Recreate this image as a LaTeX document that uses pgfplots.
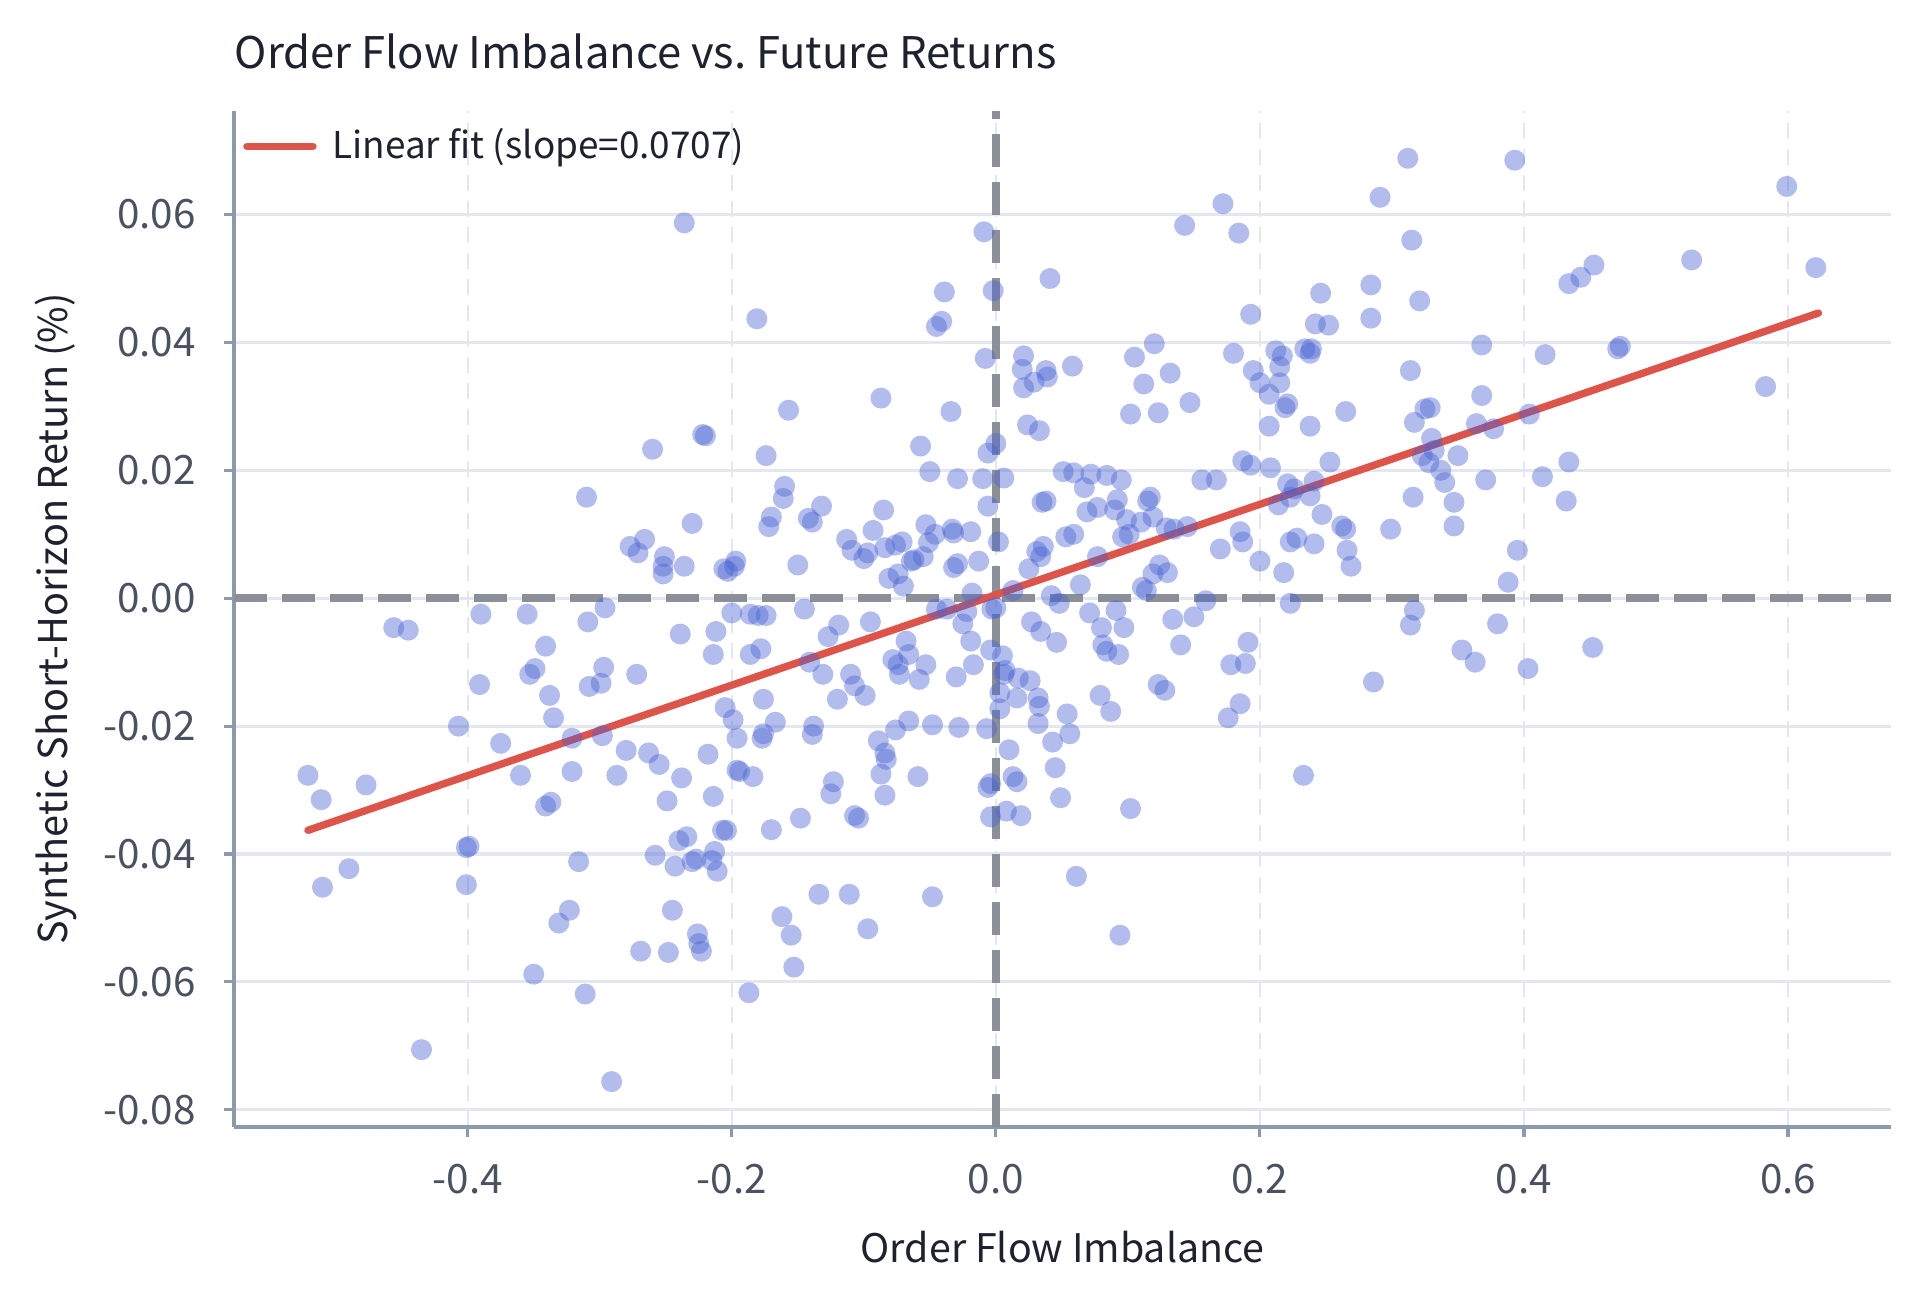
\documentclass[border=0pt]{standalone}
\usepackage{fontspec}
\setmainfont{Noto Sans CJK KR}
\usepackage{pgfplots}
\usepackage{pgfplotstable}
\pgfplotsset{compat=1.18}

\definecolor{pts}{RGB}{72,98,212}
\definecolor{fitred}{RGB}{220,84,74}
\definecolor{refgray}{RGB}{138,143,152}
\definecolor{spine}{RGB}{140,154,174}
\definecolor{gridc}{RGB}{228,232,238}
\definecolor{ticktxt}{RGB}{74,82,98}
\definecolor{labtxt}{RGB}{30,34,46}

% order flow imbalance, future return (%)
\pgfplotstableread{
x y
-0.521 -0.0277
-0.511 -0.0315
-0.510 -0.0452
-0.490 -0.0423
-0.477 -0.0292
-0.456 -0.0046
-0.445 -0.0050
-0.435 -0.0706
-0.401 -0.0390
-0.399 -0.0388
-0.401 -0.0448
-0.407 -0.0200
-0.391 -0.0135
-0.390 -0.0025
-0.375 -0.0227
-0.360 -0.0277
-0.355 -0.0025
-0.353 -0.0119
-0.349 -0.0110
-0.341 -0.0075
-0.338 -0.0152
-0.335 -0.0187
-0.341 -0.0325
-0.337 -0.0319
-0.331 -0.0508
-0.350 -0.0588
-0.323 -0.0488
-0.321 -0.0219
-0.321 -0.0271
-0.316 -0.0412
-0.311 -0.0619
-0.310 0.0158
-0.308 -0.0138
-0.309 -0.0037
-0.299 -0.0133
-0.297 -0.0108
-0.298 -0.0215
-0.296 -0.0015
-0.291 -0.0756
-0.287 -0.0277
-0.280 -0.0238
-0.277 0.0081
-0.271 0.0071
-0.269 -0.0552
-0.272 -0.0119
-0.266 0.0092
-0.263 -0.0242
-0.260 0.0233
-0.258 -0.0402
-0.255 -0.0260
-0.252 0.0050
-0.252 0.0038
-0.251 0.0065
-0.249 -0.0317
-0.248 -0.0554
-0.245 -0.0488
-0.243 -0.0419
-0.240 -0.0379
-0.239 -0.0056
-0.238 -0.0281
-0.236 0.0587
-0.236 0.0050
-0.234 -0.0373
-0.230 0.0117
-0.230 -0.0412
-0.227 -0.0408
-0.226 -0.0525
-0.225 -0.0540
-0.223 -0.0552
-0.222 0.0256
-0.220 0.0254
-0.218 -0.0244
-0.215 -0.0410
-0.214 -0.0088
-0.214 -0.0310
-0.213 -0.0396
-0.212 -0.0052
-0.211 -0.0427
-0.207 -0.0363
-0.206 0.0046
-0.205 -0.0171
-0.204 -0.0363
-0.203 0.0042
-0.200 -0.0023
-0.199 -0.0190
-0.198 0.0050
-0.197 0.0058
-0.196 -0.0219
-0.196 -0.0269
-0.194 -0.0271
-0.187 -0.0617
-0.186 -0.0025
-0.186 -0.0088
-0.184 -0.0279
-0.181 0.0437
-0.180 -0.0027
-0.178 -0.0079
-0.177 -0.0219
-0.176 -0.0212
-0.176 -0.0158
-0.174 -0.0027
-0.174 0.0223
-0.172 0.0112
-0.170 0.0127
-0.170 -0.0362
-0.167 -0.0194
-0.162 -0.0498
-0.161 0.0156
-0.160 0.0175
-0.157 0.0294
-0.155 -0.0527
-0.153 -0.0577
-0.150 0.0052
-0.148 -0.0344
-0.145 -0.0017
-0.142 0.0125
-0.139 0.0119
-0.141 -0.0100
-0.138 -0.0200
-0.139 -0.0213
-0.134 -0.0463
-0.132 0.0144
-0.131 -0.0119
-0.127 -0.0060
-0.125 -0.0306
-0.123 -0.0287
-0.120 -0.0158
-0.119 -0.0042
-0.113 0.0092
-0.111 -0.0463
-0.110 -0.0119
-0.109 0.0075
-0.107 -0.0340
-0.107 -0.0137
-0.104 -0.0344
-0.100 0.0062
-0.099 -0.0152
-0.097 0.0071
-0.097 -0.0517
-0.095 -0.0037
-0.093 0.0106
-0.089 -0.0223
-0.087 0.0313
-0.087 -0.0275
-0.085 0.0138
-0.084 0.0079
-0.084 -0.0242
-0.084 -0.0308
-0.083 -0.0252
-0.081 0.0031
-0.078 -0.0096
-0.076 0.0083
-0.076 -0.0206
-0.074 -0.0104
-0.074 0.0038
-0.073 -0.0119
-0.071 0.0088
-0.070 0.0019
-0.068 -0.0067
-0.066 -0.0192
-0.066 -0.0088
-0.064 0.0058
-0.062 0.0060
-0.059 -0.0279
-0.058 -0.0127
-0.057 0.0238
-0.055 0.0065
-0.053 0.0115
-0.053 -0.0104
-0.051 0.0087
-0.050 0.0198
-0.048 -0.0198
-0.048 -0.0467
-0.046 0.0100
-0.045 -0.0017
-0.045 0.0425
-0.041 0.0433
-0.039 0.0479
-0.037 -0.0017
-0.034 0.0292
-0.033 0.0108
-0.032 0.0048
-0.032 0.0102
-0.030 -0.0123
-0.029 0.0187
-0.029 0.0054
-0.028 -0.0202
-0.025 -0.0040
-0.022 -0.0021
-0.019 -0.0067
-0.019 0.0104
-0.017 -0.0104
-0.018 0.0008
-0.013 0.0058
-0.010 0.0187
-0.009 0.0573
-0.008 0.0375
-0.007 -0.0204
-0.006 0.0144
-0.006 0.0227
-0.004 -0.0290
-0.006 -0.0296
-0.004 -0.0342
-0.003 -0.0017
-0.004 -0.0081
-0.002 0.0481
0.000 0.0242
0.002 0.0088
0.000 -0.0015
0.003 -0.0148
0.003 -0.0173
0.005 -0.0090
0.006 -0.0119
0.006 0.0188
0.007 -0.0113
0.008 -0.0333
0.010 -0.0237
0.013 0.0012
0.013 -0.0279
0.016 -0.0287
0.016 -0.0156
0.017 -0.0125
0.019 -0.0340
0.020 0.0358
0.021 0.0379
0.021 0.0329
0.024 0.0271
0.025 0.0046
0.026 -0.0129
0.027 -0.0037
0.029 0.0338
0.031 0.0073
0.032 -0.0196
0.033 -0.0169
0.032 -0.0156
0.033 0.0262
0.034 0.0065
0.034 -0.0052
0.035 0.0150
0.036 0.0081
0.038 0.0152
0.038 0.0356
0.039 0.0346
0.041 0.0500
0.042 0.0004
0.043 -0.0225
0.045 -0.0265
0.046 -0.0069
0.048 -0.0008
0.049 -0.0312
0.051 0.0198
0.053 0.0096
0.054 -0.0181
0.056 -0.0212
0.058 0.0363
0.059 0.0100
0.059 0.0196
0.061 -0.0435
0.064 0.0021
0.067 0.0173
0.069 0.0135
0.071 -0.0023
0.072 0.0194
0.077 0.0142
0.077 0.0065
0.079 -0.0152
0.080 -0.0046
0.081 -0.0073
0.084 0.0192
0.084 -0.0083
0.087 -0.0177
0.090 0.0138
0.091 -0.0019
0.092 0.0154
0.093 -0.0088
0.094 -0.0527
0.095 0.0185
0.096 0.0096
0.097 -0.0046
0.099 0.0123
0.101 0.0100
0.102 0.0288
0.102 -0.0329
0.105 0.0377
0.110 0.0119
0.111 0.0017
0.112 0.0335
0.114 0.0012
0.115 0.0152
0.117 0.0158
0.119 0.0038
0.120 0.0398
0.119 0.0127
0.123 0.0290
0.123 -0.0135
0.124 0.0052
0.128 -0.0144
0.129 0.0110
0.130 0.0040
0.132 0.0352
0.134 -0.0033
0.135 0.0108
0.140 -0.0073
0.143 0.0583
0.145 0.0112
0.147 0.0306
0.150 -0.0029
0.156 0.0185
0.159 -0.0004
0.176 -0.0187
0.167 0.0185
0.170 0.0077
0.172 0.0617
0.178 -0.0104
0.180 0.0383
0.184 0.0571
0.185 0.0104
0.185 -0.0165
0.189 -0.0102
0.187 0.0088
0.187 0.0215
0.191 -0.0069
0.193 0.0444
0.195 0.0356
0.200 0.0337
0.207 0.0319
0.200 0.0058
0.193 0.0208
0.207 0.0269
0.208 0.0204
0.212 0.0387
0.215 0.0337
0.215 0.0362
0.214 0.0146
0.217 0.0379
0.218 0.0040
0.221 0.0179
0.223 0.0158
0.223 0.0088
0.223 -0.0008
0.226 0.0171
0.228 0.0094
0.233 -0.0277
0.234 0.0390
0.219 0.0298
0.221 0.0304
0.238 0.0160
0.241 0.0085
0.246 0.0477
0.247 0.0131
0.241 0.0183
0.242 0.0429
0.239 0.0390
0.238 0.0383
0.252 0.0427
0.238 0.0269
0.265 0.0292
0.253 0.0213
0.262 0.0113
0.266 0.0075
0.265 0.0108
0.269 0.0050
0.284 0.0438
0.284 0.0490
0.286 -0.0131
0.291 0.0627
0.299 0.0108
0.312 0.0688
0.314 -0.0042
0.315 0.0560
0.314 0.0356
0.316 0.0158
0.317 -0.0019
0.321 0.0465
0.317 0.0275
0.323 0.0223
0.325 0.0296
0.329 0.0298
0.330 0.0250
0.328 0.0212
0.332 0.0231
0.337 0.0200
0.340 0.0181
0.347 0.0150
0.347 0.0113
0.350 0.0223
0.353 -0.0081
0.363 -0.0100
0.364 0.0273
0.368 0.0396
0.368 0.0317
0.371 0.0185
0.377 0.0265
0.380 -0.0040
0.388 0.0025
0.395 0.0075
0.403 -0.0110
0.404 0.0288
0.414 0.0190
0.416 0.0381
0.432 0.0152
0.434 0.0213
0.434 0.0492
0.443 0.0502
0.453 0.0521
0.452 -0.0077
0.471 0.0390
0.473 0.0394
0.527 0.0529
0.583 0.0331
0.599 0.0644
0.621 0.0517
0.393 0.0685
}\ofidata

\begin{document}
\begin{tikzpicture}
\path[use as bounding box] (-2.34cm,-1.65cm) rectangle (16.86cm,11.27cm);
\begin{axis}[
  scale only axis,
  width=16.57cm, height=10.16cm,
  xmin=-0.577, xmax=0.678,
  ymin=-0.0827, ymax=0.0762,
  axis x line*=bottom, axis y line*=left,
  axis line style={draw=spine, line width=0.9pt},
  tick align=outside,
  major tick length=1mm,
  every tick/.style={draw=spine, line width=0.9pt},
  xtick={-0.4,-0.2,0,0.2,0.4,0.6},
  ytick={-0.08,-0.06,-0.04,-0.02,0,0.02,0.04,0.06},
  /pgf/number format/assume math mode=true,
  xticklabel style={/pgf/number format/.cd, fixed, fixed zerofill, precision=1, /tikz/.cd, yshift=-0.15cm},
  yticklabel style={/pgf/number format/.cd, fixed, fixed zerofill, precision=2, /tikz/.cd, xshift=-0.16cm},
  scaled x ticks=false, scaled y ticks=false,
  ticklabel style={font=\fontsize{11.5}{13}\selectfont, text=ticktxt},
  grid=major,
  x grid style={draw=gridc, line width=0.6pt, dash pattern=on 1.6mm off 1mm},
  y grid style={draw=gridc, line width=0.9pt},
  title={Order Flow Imbalance vs.\ Future Returns},
  every axis title/.style={at={(axis description cs:0,1)}, anchor=base west, inner sep=0pt,
    yshift=0.42cm, font=\fontsize{12.4}{15}\selectfont, text=labtxt},
  xlabel={Order Flow Imbalance},
  ylabel={Synthetic Short-Horizon Return (\%)},
  xlabel style={at={(axis description cs:0.5,0)}, anchor=base, inner sep=0pt,
    yshift=-1.35cm, font=\fontsize{11.2}{14}\selectfont, text=labtxt},
  ylabel style={at={(axis description cs:-0.1002,0.5)}, anchor=base, inner sep=0pt,
    font=\fontsize{11.3}{14}\selectfont, text=labtxt},
  legend style={at={(axis description cs:0,1)}, anchor=north west,
    xshift=-0.02cm, yshift=-0.03cm, draw=none, fill=none,
    font=\fontsize{10.5}{12}\selectfont, text=labtxt},
  legend cell align=left,
  legend image code/.code={\draw[#1, line width=2.1pt, line cap=round] (0mm,0mm) -- (6.6mm,0mm);
    \path (7.5mm,0mm);},
]
\addplot[forget plot, draw=refgray, line width=2.4pt, dash pattern=on 3.3mm off 1.5mm]
  coordinates {(-0.577,0) (0.678,0)};
\addplot[forget plot, draw=refgray, line width=2.4pt, dash pattern=on 3.3mm off 1.5mm]
  coordinates {(0,-0.0827) (0,0.0762)};
\addplot[forget plot, only marks, mark=*, mark size=1.05mm,
  mark options={line width=0pt, draw opacity=0, fill=pts, fill opacity=0.42}]
  table[x=x, y=y] {\ofidata};
\addplot[draw=fitred, line width=2.1pt, line cap=round]
  coordinates {(-0.521,-0.0363) (0.623,0.0446)};
\addlegendentry{Linear fit (slope=0.0707)}
\end{axis}
\end{tikzpicture}
\end{document}
